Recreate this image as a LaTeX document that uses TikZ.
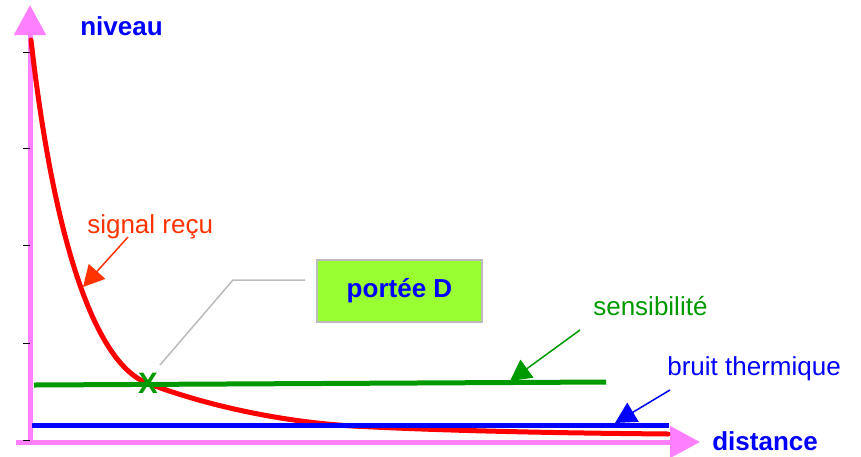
\documentclass[tikz,border=0pt]{standalone}
\usepackage{fontspec}
\setmainfont{Liberation Sans}
\usetikzlibrary{arrows.meta}

\definecolor{axispink}{HTML}{FF80FF}
\definecolor{sigred}{HTML}{FF3300}
\definecolor{sensgreen}{HTML}{009900}
\definecolor{boxgreen}{HTML}{99FF33}
\definecolor{callgray}{HTML}{BBBBBB}

\begin{document}
\begin{tikzpicture}[x=0.025cm,y=-0.025cm, % one unit = one pixel of the sketch
  txt/.style={inner sep=0pt,anchor=base west,font=\fontsize{18.5}{22}\selectfont},
  axis/.style={axispink,line width=5*0.025cm,-{Triangle[length=30*0.025cm,width=31*0.025cm]}},
  ptr/.style={line width=1.5*0.025cm,-{Triangle[length=21*0.025cm,width=22*0.025cm]}},
  level/.style={line width=5*0.025cm}]
\useasboundingbox (0,0) rectangle (861,456);

% axes
\draw[axis] (30,442) -- (30,5);
\draw[axis] (16,442) -- (700,442);
\foreach \y in {52,148,245,343,440}
\draw (23,\y) -- (30,\y);

% labels
\node[txt,text=blue,font=\fontsize{18.5}{22}\selectfont\bfseries] (niveau) at (80,35) {niveau};
\node[txt,text=blue,font=\fontsize{18.5}{22}\selectfont\bfseries] (distance) at (712,450) {distance};
\node[txt,text=sigred] (signal) at (87,233) {signal reçu};
\node[txt,text=sensgreen] (sensib) at (593,315) {sensibilité};
\node[txt,text=blue] (bruit) at (667,375) {bruit thermique};

% pointers
\coordinate (sigtip) at (83,287);
\coordinate (senstip) at (510,381);
\coordinate (bruittip) at (615,423);
\draw[ptr,sensgreen] ([xshift=-13*0.025cm,yshift=-15*0.025cm]sensib.base west) -- (senstip);
\draw[ptr,blue] ([xshift=3*0.025cm,yshift=-15*0.025cm]bruit.base west) -- (bruittip);

% received signal
\draw[red,level,line cap=round] (31,40) .. controls (56,260) and (100,365) .. (147,383)
  .. controls (207,406) and (283,422) .. (353,426) .. controls (450,431) and (560,433) .. (668,434);
\draw[ptr,sigred] ([xshift=41*0.025cm,yshift=-4*0.025cm]signal.base west) -- (sigtip);

% sensitivity and thermal noise
\draw[sensgreen,level] (34,385) -- (606,382);
\draw[blue,level] (32,425) -- (669,425);

% range
\node[text=sensgreen,inner sep=0pt,font=\fontsize{21}{24}\selectfont\bfseries] (X) at (148,383) {X};
\node[draw=callgray,line width=1.5*0.025cm,fill=boxgreen,minimum width=165*0.025cm,minimum height=62*0.025cm,
  text=blue,font=\fontsize{18.5}{22}\selectfont\bfseries] (portee) at (399.5,291) {portée D};
\coordinate (callend) at (305,280);
\draw[callgray,line width=1.5*0.025cm] ([xshift=12*0.025cm,yshift=18*0.025cm]X.center) -- (233,280) -- (callend);

\end{tikzpicture}
\end{document}
